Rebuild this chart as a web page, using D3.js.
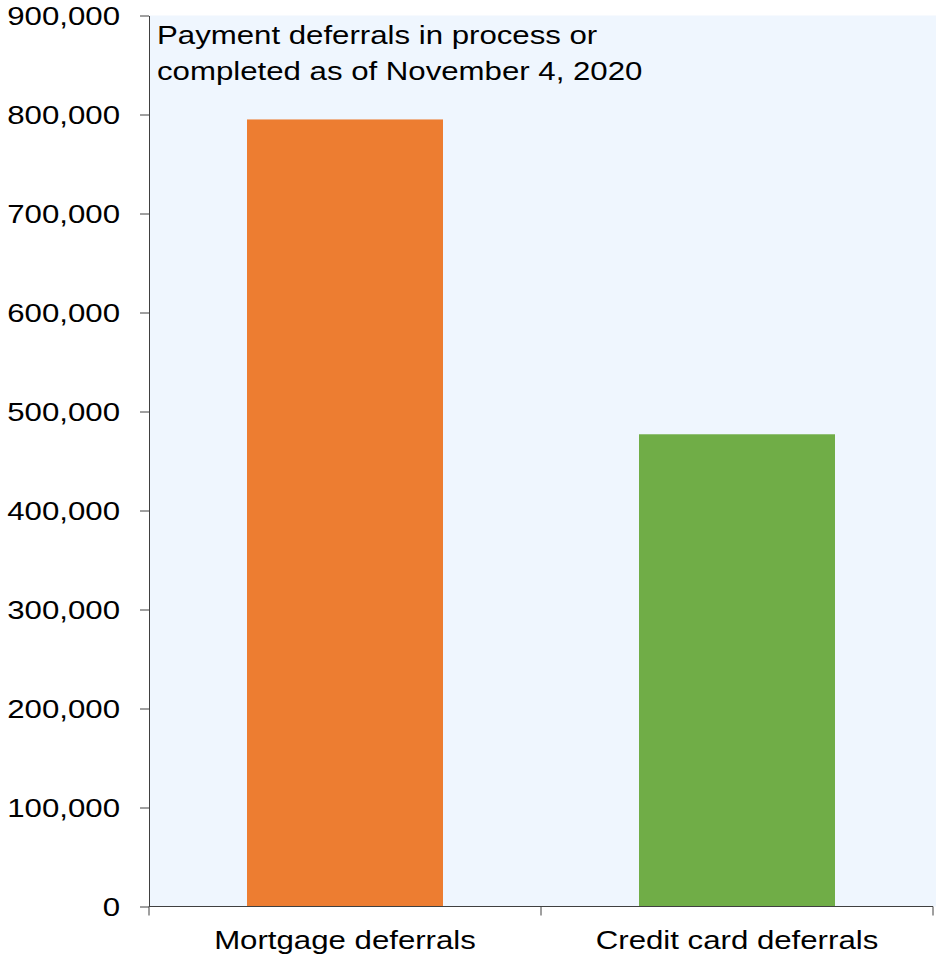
<!DOCTYPE html>
<html>
<head>
<meta charset="utf-8">
<style>
    body { margin: 0; background: #fff; }
    svg { display: block; font-family: 'Liberation Sans', Arial, sans-serif; }
    .axis .domain { stroke: #404040; }
    .axis .tick line { stroke: #404040; }
    .axis .tick text { font-size: 26px; fill: #000; }
    .note { font-size: 26px; fill: #000; }
</style>
</head>
<body>
<svg width="936" height="961"></svg>
<script src="https://d3js.org/d3.v7.min.js"></script>
<script>
    // data
    let categories = ["Mortgage deferrals", "Credit card deferrals"];
    let values = [795000, 477000];
    let colors = ["#ED7D31", "#70AD47"];
    let yTicks = [0, 100000, 200000, 300000, 400000, 500000, 600000, 700000, 800000, 900000];
    let noteLines = ["Payment deferrals in process or", "completed as of November 4, 2020"];

    let margin = { top: 15.5, right: 3, bottom: 54.5, left: 149 };
    let width = 936, height = 961;
    let stretch = 1.2; // the source text is a bit wider than plain Arial

    let svg = d3.select("svg");

    let x = d3.scaleBand()
        .domain(categories)
        .range([margin.left, width - margin.right])
        .paddingInner(0.5)
        .paddingOuter(0.25);

    let y = d3.scaleLinear()
        .domain([0, 900000])
        .range([height - margin.bottom, margin.top]);

    // plot background
    svg.append("rect")
        .attr("x", margin.left)
        .attr("y", margin.top)
        .attr("width", width - margin.left)
        .attr("height", y(0) - margin.top)
        .attr("fill", "#EFF6FE");

    // bars
    svg.append("g")
        .selectAll("rect")
        .data(categories)
        .join("rect")
        .attr("x", d => x(d))
        .attr("width", x.bandwidth())
        .attr("y", (d, i) => y(values[i]))
        .attr("height", (d, i) => y(0) - y(values[i]))
        .attr("fill", (d, i) => colors[i]);

    // y axis
    svg.append("g")
        .attr("class", "axis")
        .attr("transform", `translate(${margin.left},0)`)
        .call(d3.axisLeft(y)
            .tickValues(yTicks)
            .tickSize(9)
            .tickSizeOuter(0)
            .tickFormat(d3.format(",")))
        .call(g => g.selectAll(".tick text")
            .attr("x", null)
            .attr("dy", "0.36em")
            .attr("transform", `translate(-29,0) scale(${stretch},1)`));

    // x axis, ticks on band boundaries
    let xAxis = svg.append("g")
        .attr("class", "axis")
        .attr("transform", `translate(0,${y(0)})`);

    xAxis.append("line")
        .attr("x1", margin.left)
        .attr("x2", width - margin.right)
        .attr("stroke", "#404040");

    let edges = [margin.left, (margin.left + width - margin.right) / 2, width - margin.right];
    xAxis.selectAll(".edge")
        .data(edges)
        .join("line")
        .attr("class", "edge")
        .attr("x1", d => d)
        .attr("x2", d => d)
        .attr("y1", 0)
        .attr("y2", 9)
        .attr("stroke", "#404040");

    xAxis.selectAll(".cat")
        .data(categories)
        .join("text")
        .attr("class", "cat")
        .attr("transform", d => `translate(${x(d) + x.bandwidth() / 2},42.5) scale(${stretch},1)`)
        .attr("text-anchor", "middle")
        .attr("font-size", 26)
        .attr("fill", "#000")
        .text(d => d);

    // note in the corner
    svg.append("text")
        .attr("class", "note")
        .attr("transform", `translate(${margin.left + 8},43.5) scale(${stretch},1)`)
        .selectAll("tspan")
        .data(noteLines)
        .join("tspan")
        .attr("x", 0)
        .attr("y", (d, i) => i * 37)
        .text(d => d);
</script>
</body>
</html>
